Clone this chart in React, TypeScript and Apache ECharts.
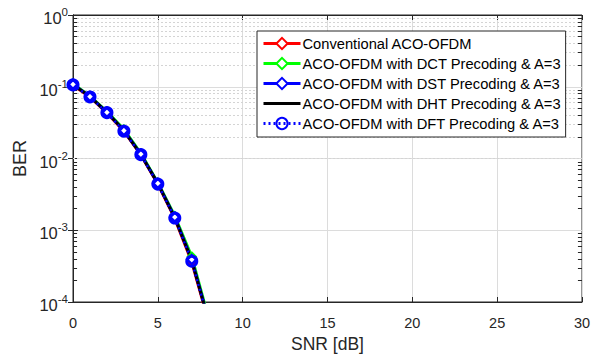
import React, { useEffect, useRef } from "react";
import * as echarts from "echarts";

const SNR = [0, 1, 2, 3, 4, 5, 6, 7, 8];
const BER_CONV = [0.105, 0.072, 0.043, 0.024, 0.0112, 0.0044, 0.00145, 0.00036, 0.000052];
const BER_DCT = [0.11, 0.074, 0.045, 0.0255, 0.0118, 0.0046, 0.00158, 0.00043, 0.000058];
const BER_DST = [0.108, 0.073, 0.044, 0.0245, 0.0115, 0.0045, 0.00152, 0.00039, 0.000055];
const BER_DHT = [0.107, 0.073, 0.044, 0.0245, 0.0114, 0.0045, 0.0015, 0.00038, 0.000054];
const BER_DFT = [0.106, 0.072, 0.0435, 0.024, 0.0113, 0.0044, 0.00148, 0.00037, 0.000053];

const X_TICKS = { min: 0, max: 30, interval: 5 };
const DECADES = [1e-4, 1e-3, 1e-2, 1e-1];
const MINOR_MULT = [2, 3, 4, 5, 6, 7, 8, 9];

const NAMES = [
  "Conventional ACO-OFDM",
  "ACO-OFDM with DCT Precoding & A=3",
  "ACO-OFDM with DST Precoding & A=3",
  "ACO-OFDM with DHT Precoding & A=3",
  "ACO-OFDM with DFT Precoding & A=3",
];

const FONT = "'Liberation Sans', Arial, Helvetica, sans-serif";

export default function App() {
  const ref = useRef<HTMLDivElement>(null);
  useEffect(() => {
    const chart = echarts.init(ref.current!, null, { renderer: "svg" });
    const pair = (ys: number[]) => SNR.map((x, i) => [x, ys[i]]);
    const minorValues: number[] = [];
    DECADES.forEach((d) => MINOR_MULT.forEach((m) => minorValues.push(d * m)));
    const minorGrid = minorValues.map((v) => ({ yAxis: v }));
    const tickLen = 0.24;
    const minorTicks: any[] = [];
    minorValues.forEach((v) => {
      minorTicks.push([{ coord: [X_TICKS.min, v] }, { coord: [X_TICKS.min + tickLen, v] }]);
      minorTicks.push([{ coord: [X_TICKS.max - tickLen, v] }, { coord: [X_TICKS.max, v] }]);
    });

    const axisColor = "#262626";
    const option: any = {
      animation: false,
      backgroundColor: "#ffffff",
      textStyle: { fontFamily: FONT },
      grid: {
        left: 73,
        right: 21,
        top: 15,
        bottom: 56,
        show: true,
        borderColor: axisColor,
        borderWidth: 1,
        backgroundColor: "#ffffff",
      },
      legend: {
        orient: "vertical",
        left: 257,
        top: 31,
        z: 10,
        itemWidth: 37,
        itemHeight: 14,
        itemGap: 5,
        padding: [5, 4, 6, 5],
        borderColor: axisColor,
        borderWidth: 1,
        backgroundColor: "#ffffff",
        textStyle: { fontFamily: FONT, fontSize: 14.7, color: "#000000", padding: [0, 0, 0, -3] },
        data: [
          { name: NAMES[0], lineStyle: { type: "solid", width: 3, color: "#ff0000" } },
          { name: NAMES[1], lineStyle: { type: "solid", width: 3, color: "#00ff00" } },
          { name: NAMES[2], lineStyle: { type: "solid", width: 3, color: "#0000ff" } },
          {
            name: NAMES[3],
            icon: "path://M0,0 L40,0 L40,3 L0,3 Z",
            itemStyle: { color: "#000000", borderWidth: 0 },
          },
          { name: NAMES[4], lineStyle: { type: [2, 3], width: 3, color: "#0000ff" } },
        ],
      },
      xAxis: [
        {
          type: "value",
          min: X_TICKS.min,
          max: X_TICKS.max,
          interval: X_TICKS.interval,
          name: "SNR [dB]",
          nameLocation: "middle",
          nameGap: 33,
          nameTextStyle: { fontFamily: FONT, fontSize: 17.5, color: axisColor },
          axisLine: { lineStyle: { color: axisColor, width: 1 } },
          axisTick: { inside: true, length: 5, lineStyle: { color: axisColor } },
          axisLabel: { fontFamily: FONT, fontSize: 14.5, color: axisColor, margin: 13 },
          splitLine: { show: true, lineStyle: { color: "#dcdcdc", width: 1 } },
        },
        {
          type: "value",
          position: "top",
          min: X_TICKS.min,
          max: X_TICKS.max,
          interval: X_TICKS.interval,
          axisLine: { show: true, lineStyle: { color: axisColor } },
          axisTick: { inside: true, length: 5, lineStyle: { color: axisColor } },
          axisLabel: { show: false },
          splitLine: { show: false },
        },
      ],
      yAxis: [
        {
          type: "log",
          logBase: 10,
          min: 1e-4,
          max: 1,
          interval: 1,
          name: "BER",
          nameLocation: "middle",
          nameGap: 43,
          nameTextStyle: { fontFamily: FONT, fontSize: 18, color: axisColor },
          axisLine: { show: true, lineStyle: { color: axisColor, width: 1 } },
          axisTick: { inside: true, length: 5, lineStyle: { color: axisColor } },
          axisLabel: {
            margin: 5,
            formatter: (v: number) => `{b|10}{s|${Math.round(Math.log10(v))}}`,
            rich: {
              b: { fontFamily: FONT, fontSize: 16.5, color: axisColor, padding: [6, 0, 0, 0] },
              s: { fontFamily: FONT, fontSize: 11.5, color: axisColor, padding: [0, 0, 6, 0] },
            },
          },
          splitLine: { show: true, lineStyle: { color: "#dcdcdc", width: 1 } },
        },
        {
          type: "log",
          logBase: 10,
          min: 1e-4,
          max: 1,
          interval: 1,
          position: "right",
          axisLine: { show: true, lineStyle: { color: axisColor } },
          axisTick: { inside: true, length: 5, lineStyle: { color: axisColor } },
          axisLabel: { show: false },
          splitLine: { show: false },
        },
      ],
      series: [
        {
          type: "line",
          name: "minor-grid",
          data: [],
          silent: true,
          z: 1,
          legendHoverLink: false,
          markLine: {
            silent: true,
            z: 1,
            symbol: "none",
            label: { show: false },
            lineStyle: { color: "#d4d4d4", type: [2, 2], width: 1 },
            data: minorGrid,
            animation: false,
          },
        },
        {
          type: "line",
          name: "minor-ticks",
          data: [],
          silent: true,
          z: 1,
          legendHoverLink: false,
          markLine: {
            silent: true,
            z: 1,
            symbol: "none",
            label: { show: false },
            lineStyle: { color: axisColor, type: "solid", width: 1 },
            data: minorTicks,
            animation: false,
          },
        },
        {
          type: "line",
          name: NAMES[0],
          data: pair(BER_CONV),
          symbol: "diamond",
          symbolSize: 8,
          lineStyle: { color: "#ff0000", width: 3, type: "solid" },
          itemStyle: { color: "#ffffff", borderColor: "#ff0000", borderWidth: 2 },
          clip: true,
        },
        {
          type: "line",
          name: NAMES[1],
          data: pair(BER_DCT),
          symbol: "diamond",
          symbolSize: 8,
          lineStyle: { color: "#00ff00", width: 3, type: "solid" },
          itemStyle: { color: "#ffffff", borderColor: "#00ff00", borderWidth: 2 },
          clip: true,
        },
        {
          type: "line",
          name: NAMES[2],
          data: pair(BER_DST),
          symbol: "diamond",
          symbolSize: 9,
          lineStyle: { color: "#0000ff", width: 3, type: "solid" },
          itemStyle: { color: "#ffffff", borderColor: "#0000ff", borderWidth: 2.5 },
          clip: true,
        },
        {
          type: "line",
          name: NAMES[3],
          data: pair(BER_DHT),
          symbol: "none",
          lineStyle: { color: "#000000", width: 3, type: "solid" },
          itemStyle: { color: "#000000" },
          clip: true,
        },
        {
          type: "line",
          name: NAMES[4],
          data: pair(BER_DFT),
          symbol: "circle",
          symbolSize: 10,
          lineStyle: { color: "#0000ff", width: 2.5, type: [2, 3] },
          itemStyle: { color: "rgba(255,255,255,0)", borderColor: "#0000ff", borderWidth: 3 },
          clip: true,
        },
      ],
    };
    chart.setOption(option);
    return () => chart.dispose();
  }, []);
  return (
    <div
      ref={ref}
      style={{ position: "fixed", left: 0, top: 0, width: 603, height: 358 }}
    />
  );
}
